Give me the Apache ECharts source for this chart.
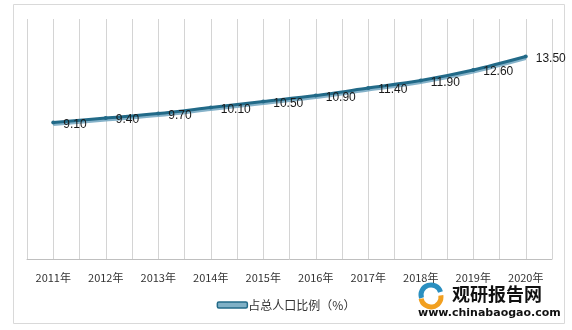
<!DOCTYPE html>
<html><head><meta charset="utf-8">
<script src="https://cdn.jsdelivr.net/npm/echarts@6/dist/echarts.min.js"></script>
<style>html,body{margin:0;padding:0;background:#fff}#c{width:572px;height:330px}</style>
</head><body><div id="c"></div>
<script>
var categories = ['2011年','2012年','2013年','2014年','2015年','2016年','2017年','2018年','2019年','2020年'];
var values = [9.10, 9.40, 9.70, 10.10, 10.50, 10.90, 11.40, 11.90, 12.60, 13.50];
var seriesName = '占总人口比例（%）';

var chart = echarts.init(document.getElementById('c'));
var font = '"Noto Sans CJK SC","Noto Sans",sans-serif';
chart.setOption({
  animation: false,
  grid: {left: 27, right: 20, top: 19, bottom: 71, containLabel: false},
  xAxis: [{
    type: 'category', data: categories, boundaryGap: true,
    axisLine: {show: true, lineStyle: {color: '#bfbfbf', width: 1}},
    axisTick: {show: false},
    axisLabel: {color: '#333', fontSize: 11, fontFamily: font, margin: 13},
    splitLine: {show: false}
  }, {
    type: 'value', min: 0, max: 20, interval: 1, position: 'bottom',
    axisLine: {show: false}, axisTick: {show: false}, axisLabel: {show: false},
    splitLine: {show: true, lineStyle: {color: '#d4d4d4', width: 1}}
  }],
  yAxis: {
    type: 'value', min: 0, max: 16, show: true,
    axisLine: {show: false}, axisTick: {show: false}, axisLabel: {show: false},
    splitLine: {show: false}
  },
  legend: {
    bottom: 14, left: 'center',
    itemWidth: 30, itemHeight: 6, itemGap: 10,
    icon: 'roundRect',
    itemStyle: {color: '#7fb0c6', borderColor: '#226a88', borderWidth: 1.5},
    textStyle: {color: '#333', fontSize: 12, fontFamily: font, padding: [0,0,0,-4]},
    data: [seriesName]
  },
  series: [{
    name: seriesName, type: 'line', data: values, smooth: 0.3,
    xAxisIndex: 0,
    symbol: 'circle', symbolSize: 4, showSymbol: true,
    itemStyle: {color: '#226a88'},
    lineStyle: {color: '#226a88', width: 3, shadowColor: 'rgba(120,170,195,0.9)', shadowBlur: 0, shadowOffsetY: 2},
    label: {show: true, position: 'right', distance: 8, offset: [0, 2], color: '#1a1a1a', fontSize: 12, fontFamily: '"Liberation Sans","Noto Sans",sans-serif',
      formatter: function(p){ return p.value.toFixed(2); }}
  }],
  graphic: [
    {type: 'rect', shape: {x: 13.5, y: 4.5, width: 551, height: 319}, style: {fill: 'none', stroke: '#d9d9d9', lineWidth: 1}, z: -1},
    {type: 'arc', shape: {cx: 431, cy: 295, r: 10, startAngle: Math.PI*0.9, endAngle: Math.PI*1.9}, style: {stroke: '#2a8fc0', lineWidth: 5, fill: 'none'}},
    {type: 'arc', shape: {cx: 431, cy: 297, r: 10, startAngle: Math.PI*1.95, endAngle: Math.PI*0.95}, style: {stroke: '#f2a020', lineWidth: 5, fill: 'none'}},
    {type: 'text', left: 452, top: 285, style: {text: '观研报告网', fontSize: 18, fontWeight: 'bold', fill: '#111', fontFamily: font}},
    {type: 'text', left: 418, top: 308, style: {text: 'www.chinabaogao.com', fontSize: 11, fontWeight: 'bold', fill: '#111', fontFamily: '"DejaVu Sans",sans-serif'}}
  ]
});
</script></body></html>
